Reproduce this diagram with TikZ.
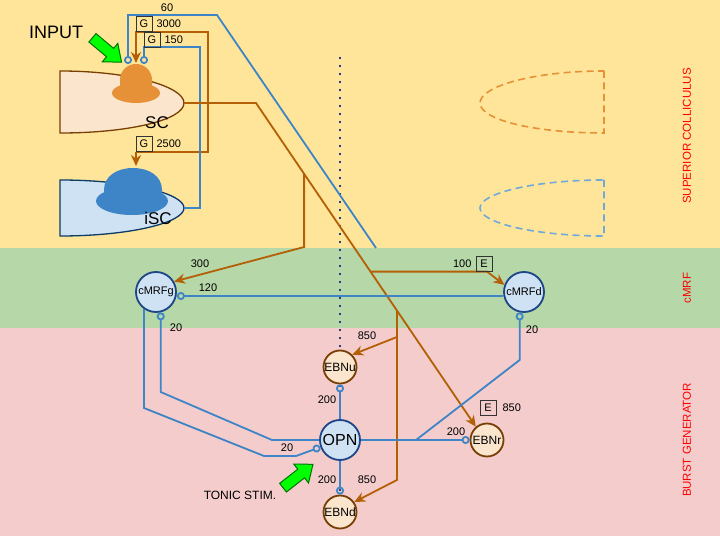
\documentclass[tikz,border=0pt]{standalone}
\usepackage{fontspec}
\setmainfont{Liberation Sans}
\usepackage{xcolor}
\usetikzlibrary{calc,positioning,arrows.meta}

\definecolor{scyellow}{HTML}{FFE599}
\definecolor{mrfgreen}{HTML}{B6D7A8}
\definecolor{bgpink}{HTML}{F4CCCC}
\definecolor{exorange}{HTML}{B45F06}
\definecolor{inblue}{HTML}{3D85C6}
\definecolor{navy}{HTML}{1C4587}
\definecolor{brownline}{HTML}{783F04}
\definecolor{peach}{HTML}{FCE5CD}
\definecolor{paleblue}{HTML}{CFE2F3}
\definecolor{blobor}{HTML}{E69138}
\definecolor{dashblue}{HTML}{6FA8DC}
\definecolor{iscline}{HTML}{0B3B66}

\newcommand{\pxfont}[1]{\fontsize{#1}{#1}\selectfont}

\begin{document}
\begin{tikzpicture}[
        x=1pt, y=-1pt,
        num/.style={font=\pxfont{11}, inner sep=0pt},
        gbox/.style={draw=black!80, line width=0.8pt, minimum width=16pt, minimum height=15pt, inner sep=0pt, font=\pxfont{11}},
        cmrf/.style={circle, draw=navy, line width=1.8pt, fill=paleblue, minimum size=40pt, inner sep=0pt, font=\pxfont{11}},
        ebn/.style={circle, draw=brownline, line width=1.8pt, fill=peach, minimum size=33pt, inner sep=0pt, font=\pxfont{12}},
        exc/.style={draw=exorange, line width=1.8pt, -{Stealth[length=11pt,width=10pt]}},
        inh/.style={draw=inblue, line width=1.8pt, -{Circle[open,length=8pt,width=8pt]}},
        region/.style={text=red, font=\pxfont{11.5}, rotate=90},
        stim/.style={draw=green!45!black, fill=green, line width=1pt},
        ghost/.style={line width=1.6pt, dash pattern=on 7pt off 4.5pt}
    ]
        \useasboundingbox (0,0) rectangle (720,540);
        \fill[scyellow] (0,0) rectangle (720,248);
        \fill[mrfgreen] (0,248) rectangle (720,328);
        \fill[bgpink] (0,328) rectangle (720,536);

        \node[region] (lblsc) at (687,136) {SUPERIOR COLLICULUS};
        \node[region] (lblmrf) at (687,288) {cMRF};
        \node[region] (lblbg) at (687,440) {BURST GENERATOR};

        % colliculus maps
        \draw[brownline, line width=1.3pt, fill=peach] (60,71) .. controls (128.5,71) and (184,86) .. (184,103) .. controls (184,120) and (128.5,133) .. (60,133) -- cycle;
        \fill[blobor] (136,93) ellipse [x radius=24, y radius=10];
        \fill[blobor] (120,93) -- (120,80) .. controls (120,71) and (127,64) .. (136,64) .. controls (145,64) and (152,71) .. (152,80) -- (152,93) -- cycle;
        \node[font=\pxfont{17}] (sclbl) at (157,123) {SC};

        \draw[iscline, line width=1.3pt, fill=paleblue] (60,180) .. controls (128.5,180) and (184,193) .. (184,208) .. controls (184,223) and (128.5,236) .. (60,236) -- cycle;
        \fill[inblue] (132,201) ellipse [x radius=36, y radius=14];
        \fill[inblue] (104,201) -- (104,190) .. controls (104,176) and (117,168) .. (133,168) .. controls (149,168) and (162,176) .. (162,190) -- (162,201) -- cycle;
        \node[font=\pxfont{17}] (isclbl) at (158,218) {iSC};

        \draw[ghost, blobor] (604,71) -- (604,133) .. controls (535,133) and (480,120) .. (480,103) .. controls (480,86) and (535,71) .. cycle;
        \draw[ghost, dashblue] (604,180) -- (604,236) .. controls (535,236) and (480,223) .. (480,208) .. controls (480,193) and (535,180) .. cycle;

        \coordinate (midtop) at (340,57);
        \coordinate (midbot) at (340,500);
        \draw[navy, line width=2pt, dash pattern=on 2pt off 6pt] (midtop) -- (midbot);

        \node[cmrf] (cmrfg) at (156,292) {cMRFg};
        \node[cmrf] (cmrfd) at (524,292) {cMRFd};
        \node[ebn] (ebnu) at (340,367) {EBNu};
        \node[cmrf, font=\pxfont{16}] (opn) at (340,440) {OPN};
        \node[ebn] (ebnr) at (487,440) {EBNr};
        \node[ebn] (ebnd) at (340,512) {EBNd};

        \coordinate (sctip) at (184,103);
        \coordinate (isctip) at (184,208);
        \coordinate (scbend) at (256,103);
        \coordinate (scin) at (136,63);
        \coordinate (iscin) at (136,166);
        \coordinate (gfork) at (136,152);
        \coordinate (scleft) at (128,64);
        \coordinate (scright) at (144,64);
        \coordinate (diagend) at (376,248);
        \coordinate (join) at (416,440);

        \draw[exc] (gfork) -- (208,152) -- (208,32) -- (136,32) -- (scin);
        \draw[exc] (gfork) -- (iscin);
        \draw[inh] (diagend) -- (217,15) -- (128,15) -- (scleft);
        \draw[inh] (isctip) -- (200,208) -- (200,47) -- (144,47) -- (scright);

        \draw[exc] (sctip) -- (scbend) -- (ebnr.130);
        \coordinate (b1) at ($(scbend)!0.219!(ebnr.130)$);
        \coordinate (b2) at ($(scbend)!0.521!(ebnr.130)$);
        \coordinate (b3) at ($(scbend)!0.641!(ebnr.130)$);
        \draw[exc] (b1) -- (b1 |- 0,247) -- (cmrfg.30);
        \draw[exc] (b2) -- (b2 -| 487,0) -- (cmrfd.160);
        \draw[exc] (b3) -- (b3 |- 0,480) -- (ebnd.35);
        \draw[exc] (b3 |- 0,337) -- (ebnu.45);

        \draw[inh] ([yshift=-4pt]cmrfd.west) -- ([yshift=-4pt]cmrfg.east);
        \draw[inh] (opn.west) -- (272,440) -- (cmrfg.-77 |- 0,392) -- (cmrfg.-77);
        \draw[inh] (cmrfg.235) -- (cmrfg.235 |- 0,408) -- (264,456) -- (296,456) -- (opn);
        \draw[inh] (join) -- (cmrfd.258 |- 0,360) -- (cmrfd.258);
        \draw[inh] (opn) -- (ebnr);
        \draw[inh] (opn) -- (ebnu);
        \draw[inh] (opn) -- (ebnd);

        \node[num] (w60) at (167,8) {60};
        \node[gbox] (g3000) at (144,24) {G};
        \node[num, right=4pt of g3000] (w3000) {3000};
        \node[gbox] (g150) at (152,40) {G};
        \node[num, right=4pt of g150] (w150) {150};
        \node[gbox] (g2500) at (144,144) {G};
        \node[num, right=4pt of g2500] (w2500) {2500};
        \node[num] (w300) at (200,264) {300};
        \node[num] (w120) at (208,288) {120};
        \node[num] (w20g) at (176,328) {20};
        \node[num] (w20o) at (287,448) {20};
        \node[gbox] (e100) at (484,264) {E};
        \node[num, left=4pt of e100] (w100) {100};
        \node[num] (w20d) at (532,330) {20};
        \node[num] (w850u) at (367,336) {850};
        \node[num] (w200u) at (327,400) {200};
        \node[num] (w200d) at (327,480) {200};
        \node[num] (w850d) at (367,480) {850};
        \node[num] (w200r) at (456,432) {200};
        \node[gbox] (e850) at (488,408) {E};
        \node[num, right=6pt of e850] (w850r) {850};

        \draw[stim, shift={(107,50)}, rotate=-40] (-19,-5.5) -- (4,-5.5) -- (4,-12) -- (19,0) -- (4,12) -- (4,5.5) -- (-19,5.5) -- cycle;
        \draw[stim, shift={(298,476)}, rotate=38] (-19,-5.5) -- (4,-5.5) -- (4,-12) -- (19,0) -- (4,12) -- (4,5.5) -- (-19,5.5) -- cycle;
        \node[font=\pxfont{18}] (input) at (56,32) {INPUT};
        \node[font=\pxfont{12}] (tonic) at (240,495) {TONIC STIM.};
    \end{tikzpicture}
\end{document}
